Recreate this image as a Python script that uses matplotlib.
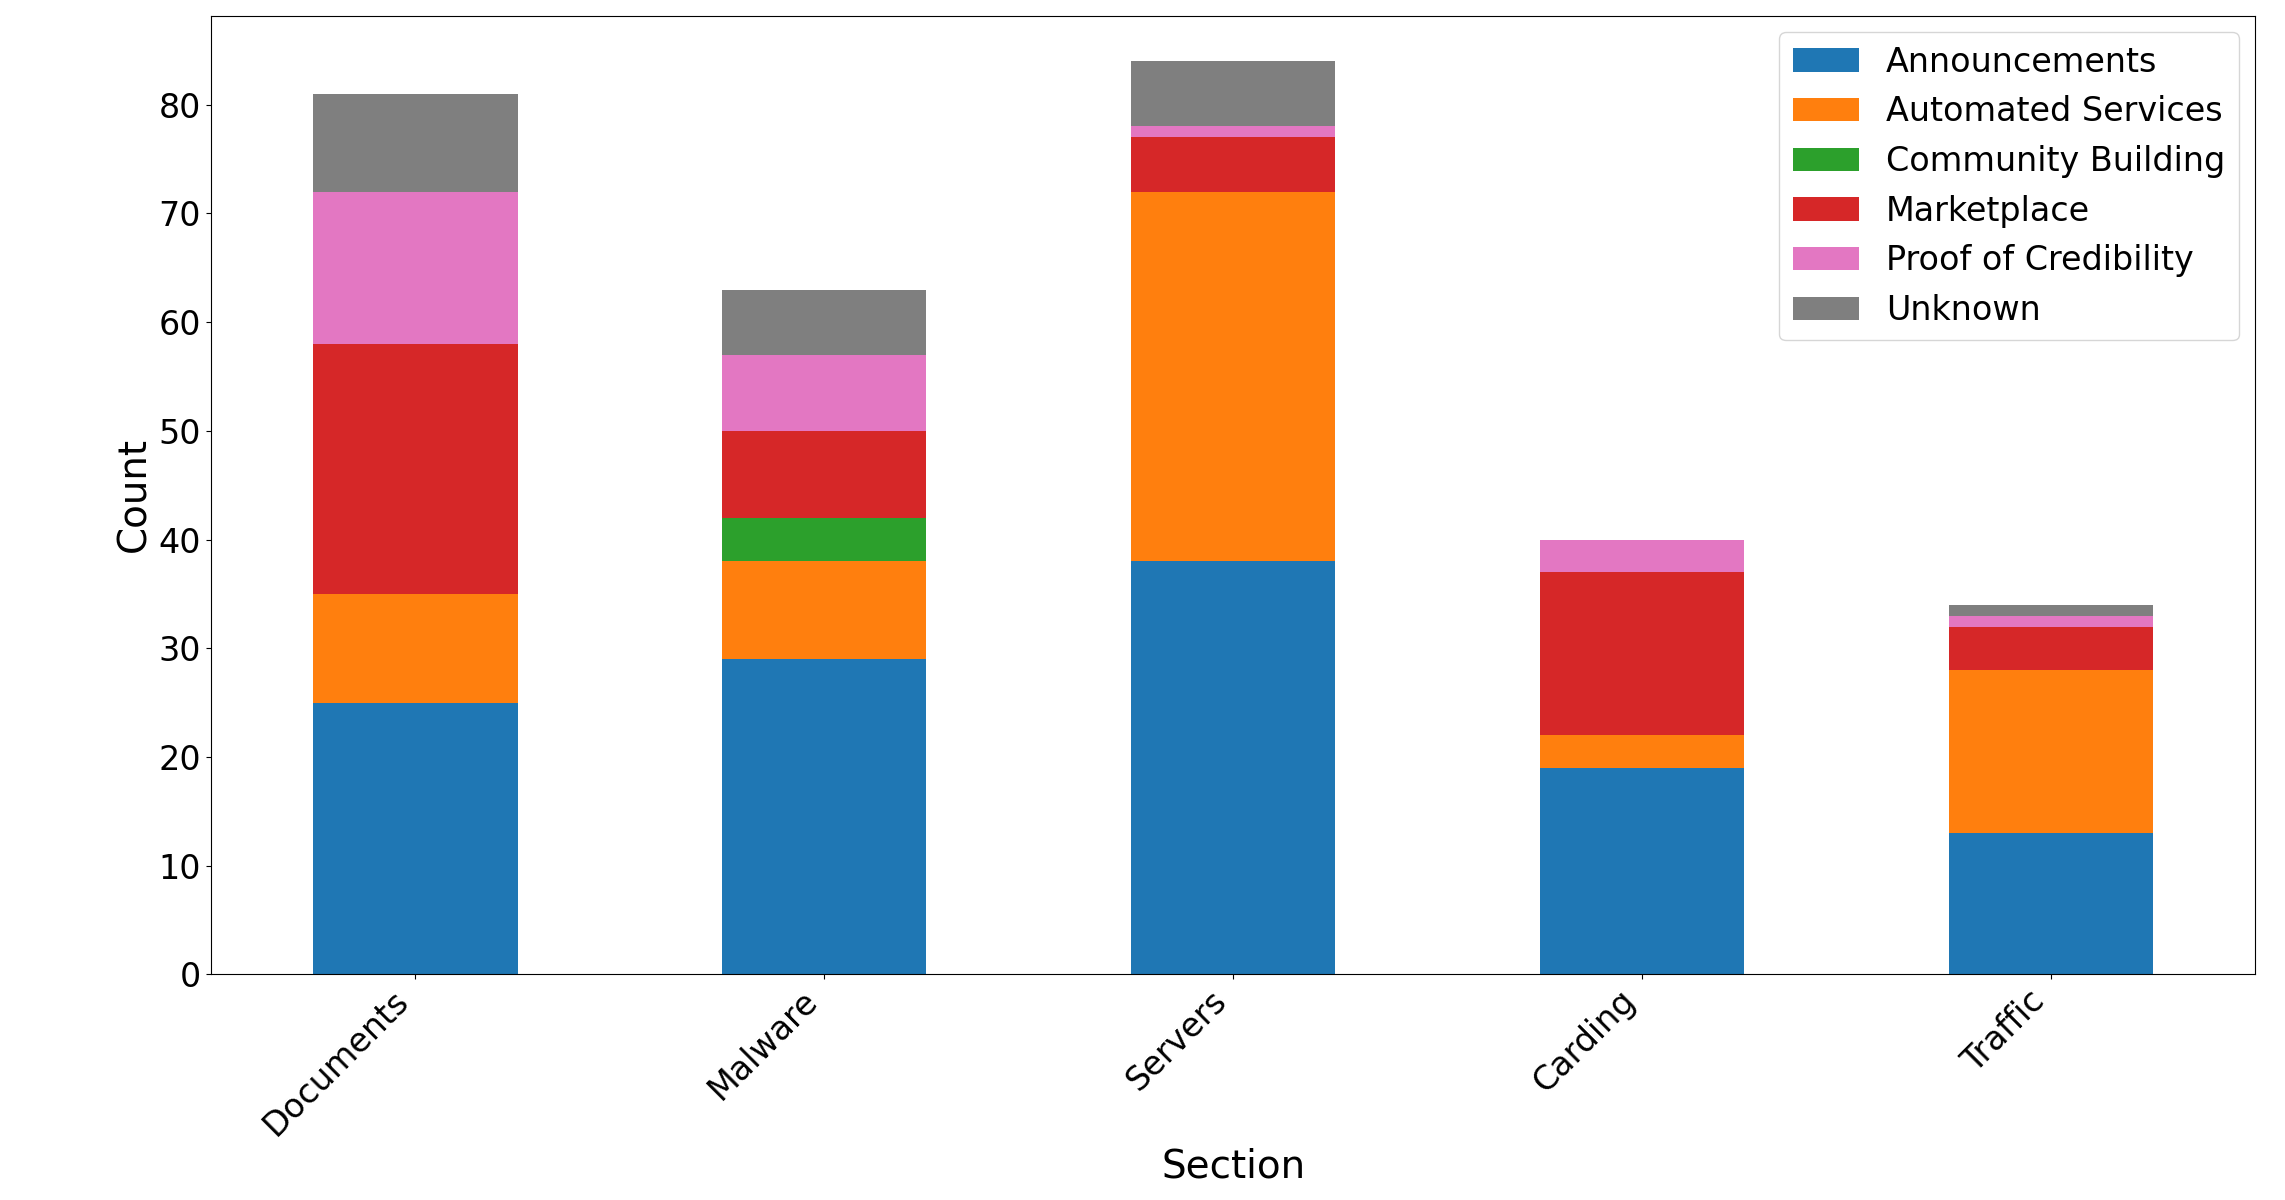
import numpy as np
import pandas as pd
import matplotlib
matplotlib.use("Agg")
import matplotlib.pyplot as plt

sections = ["Documents", "Malware", "Servers", "Carding", "Traffic"]
announcements = [25, 29, 38, 19, 13]
automated_services = [10, 9, 34, 3, 15]
community_building = [0, 4, 0, 0, 0]
marketplace = [23, 8, 5, 15, 4]
proof_of_credibility = [14, 7, 1, 3, 1]
unknown = [9, 6, 6, 0, 1]


def main():
    df = pd.DataFrame({
        "Announcements": announcements,
        "Automated Services": automated_services,
        "Community Building": community_building,
        "Marketplace": marketplace,
        "Proof of Credibility": proof_of_credibility,
        "Unknown": unknown,
    }, index=sections)
    colors = ["#1f77b4", "#ff7f0e", "#2ca02c", "#d62728", "#e377c2", "#7f7f7f"]

    fig = plt.figure(figsize=(22.85, 12), dpi=100)
    ax = fig.add_axes([0.0923, 0.188, 0.8947, 0.799])
    df.plot(kind="bar", stacked=True, ax=ax, color=colors)

    ax.set_xlabel("Section", fontsize=28)
    ax.set_ylabel("Count", fontsize=28)
    ax.tick_params(axis="both", labelsize=24)
    plt.setp(ax.get_xticklabels(), rotation=45, ha="right")
    ax.legend(fontsize=24, loc="upper right")

    fig.savefig("out.png", dpi=100)


if __name__ == "__main__":
    main()
